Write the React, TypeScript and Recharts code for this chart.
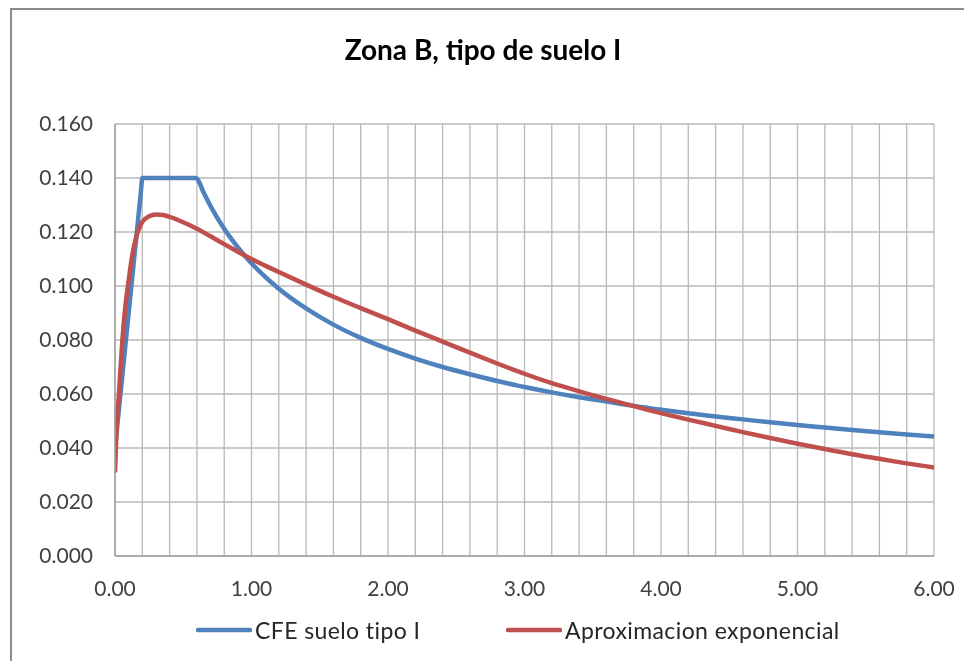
import React from 'react';
import { LineChart, Line, XAxis, YAxis, CartesianGrid, Legend } from 'recharts';

const TITLE = 'Zona B, tipo de suelo I';
const SERIES_NAMES = ['CFE suelo tipo I', 'Aproximacion exponencial'];
const SERIES_COLORS = ['#4F81BD', '#C0504D'];

// CFE spectrum (blue)
const cfePeriods = [0, 0.05, 0.1, 0.15, 0.19, 0.2, 0.3, 0.4, 0.5, 0.59, 0.6, 0.65, 0.7, 0.8, 0.9, 1.0, 1.2, 1.4, 1.6, 1.8, 2.0, 2.2, 2.4, 2.6, 2.8, 3.0, 3.2, 3.4, 3.6, 3.8, 4.0, 4.2, 4.4, 4.6, 4.8, 5.0, 5.2, 5.4, 5.6, 5.8, 6.0];
const cfeValues = [0.040, 0.065, 0.090, 0.115, 0.135, 0.140, 0.140, 0.140, 0.140, 0.140, 0.1398, 0.1345, 0.1296, 0.1212, 0.1143, 0.1084, 0.0990, 0.0917, 0.0857, 0.0808, 0.0767, 0.0731, 0.0700, 0.0673, 0.0648, 0.0626, 0.0606, 0.0588, 0.0572, 0.0556, 0.0542, 0.0529, 0.0517, 0.0506, 0.0495, 0.0485, 0.0476, 0.0467, 0.0458, 0.0450, 0.0443];

// Exponential approximation (red)
const expPeriods = [0, 0.01, 0.03, 0.05, 0.075, 0.1, 0.125, 0.15, 0.2, 0.25, 0.3, 0.35, 0.4, 0.5, 0.6, 0.7, 0.8, 0.9, 1.0, 1.2, 1.4, 1.6, 1.8, 2.0, 2.2, 2.4, 2.6, 2.8, 3.0, 3.2, 3.4, 3.6, 3.8, 4.0, 4.2, 4.4, 4.6, 4.8, 5.0, 5.2, 5.4, 5.6, 5.8, 6.0];
const expValues = [0.031, 0.045, 0.061, 0.077, 0.092, 0.102, 0.111, 0.117, 0.1238, 0.1258, 0.1265, 0.1263, 0.1256, 0.1236, 0.1212, 0.1184, 0.1155, 0.1127, 0.1100, 0.1052, 0.1005, 0.0960, 0.0918, 0.0877, 0.0835, 0.0794, 0.0753, 0.0713, 0.0675, 0.0640, 0.0610, 0.0582, 0.0555, 0.0529, 0.0505, 0.0482, 0.0459, 0.0437, 0.0416, 0.0396, 0.0377, 0.0360, 0.0343, 0.0328];

const xTicks = [0, 0.2, 0.4, 0.6, 0.8, 1, 1.2, 1.4, 1.6, 1.8, 2, 2.2, 2.4, 2.6, 2.8, 3, 3.2, 3.4, 3.6, 3.8, 4, 4.2, 4.4, 4.6, 4.8, 5, 5.2, 5.4, 5.6, 5.8, 6];
const xLabelTicks = [0, 1, 2, 3, 4, 5, 6];
const yTicks = [0, 0.02, 0.04, 0.06, 0.08, 0.1, 0.12, 0.14, 0.16];

const cfeData = cfePeriods.map((t, i) => ({ t, v: cfeValues[i] }));
const expData = expPeriods.map((t, i) => ({ t, v: expValues[i] }));

const FONT = 'Lato, "Open Sans", sans-serif';

const LegendContent = () => (
  <div style={{ display: 'flex', alignItems: 'center', height: 47, paddingLeft: 198, fontFamily: FONT, fontSize: 23, letterSpacing: 0.4, color: '#262626' }}>
    {SERIES_NAMES.map((name, i) => (
      <div key={name} style={{ display: 'flex', alignItems: 'center', width: i === 0 ? 310 : 'auto', whiteSpace: 'nowrap' }}>
        <svg width={56} height={10} style={{ marginRight: 3, marginLeft: -2 }}>
          <line x1={2} y1={5} x2={54} y2={5} stroke={SERIES_COLORS[i]} strokeWidth={4.5} strokeLinecap="round" />
        </svg>
        <span>{name}</span>
      </div>
    ))}
  </div>
);

export default function App() {
  return (
    <div style={{ position: 'relative', width: 956, height: 653, marginLeft: -8, marginTop: -8 }}>
      <div style={{ position: 'fixed', left: 10, top: 8, right: 0, bottom: 0, borderTop: '2px solid #8c8c8c', borderLeft: '2px solid #8c8c8c', pointerEvents: 'none' }} />
      <div style={{ position: 'absolute', left: 0, top: 34, width: 966, textAlign: 'center', fontFamily: FONT, fontWeight: 700, fontSize: 28, lineHeight: '30px', color: '#000' }}>
        {TITLE}
      </div>
      <LineChart width={956} height={653} margin={{ top: 124, right: 22, left: 0, bottom: 0 }}>
        <CartesianGrid stroke="#b8b8b8" strokeWidth={1.3} />
        <XAxis
          type="number"
          dataKey="t"
          domain={[0, 6]}
          ticks={xTicks}
          interval={0}
          allowDataOverflow
          tickFormatter={(v: number) => (xLabelTicks.some((k) => Math.abs(k - v) < 1e-9) ? v.toFixed(2) : '')}
          tickSize={0}
          tickMargin={25}
          height={50}
          stroke="#a0a0a0"
          strokeWidth={1.5}
          tick={{ fill: '#404040', fontSize: 21, fontFamily: FONT }}
        />
        <YAxis
          type="number"
          domain={[0, 0.16]}
          ticks={yTicks}
          interval={0}
          tickFormatter={(v: number) => v.toFixed(3)}
          tickSize={0}
          tickMargin={22}
          width={115}
          stroke="#a0a0a0"
          strokeWidth={1.5}
          tick={{ fill: '#404040', fontSize: 21, fontFamily: FONT }}
        />
        <Legend verticalAlign="bottom" height={47} content={<LegendContent />} wrapperStyle={{ left: 0, width: 956 }} />
        <Line data={cfeData} dataKey="v" name={SERIES_NAMES[0]} type="monotone" stroke={SERIES_COLORS[0]} strokeWidth={4.5} dot={false} isAnimationActive={false} strokeLinejoin="round" />
        <Line data={expData} dataKey="v" name={SERIES_NAMES[1]} type="monotone" stroke={SERIES_COLORS[1]} strokeWidth={4.5} dot={false} isAnimationActive={false} />
      </LineChart>
    </div>
  );
}
